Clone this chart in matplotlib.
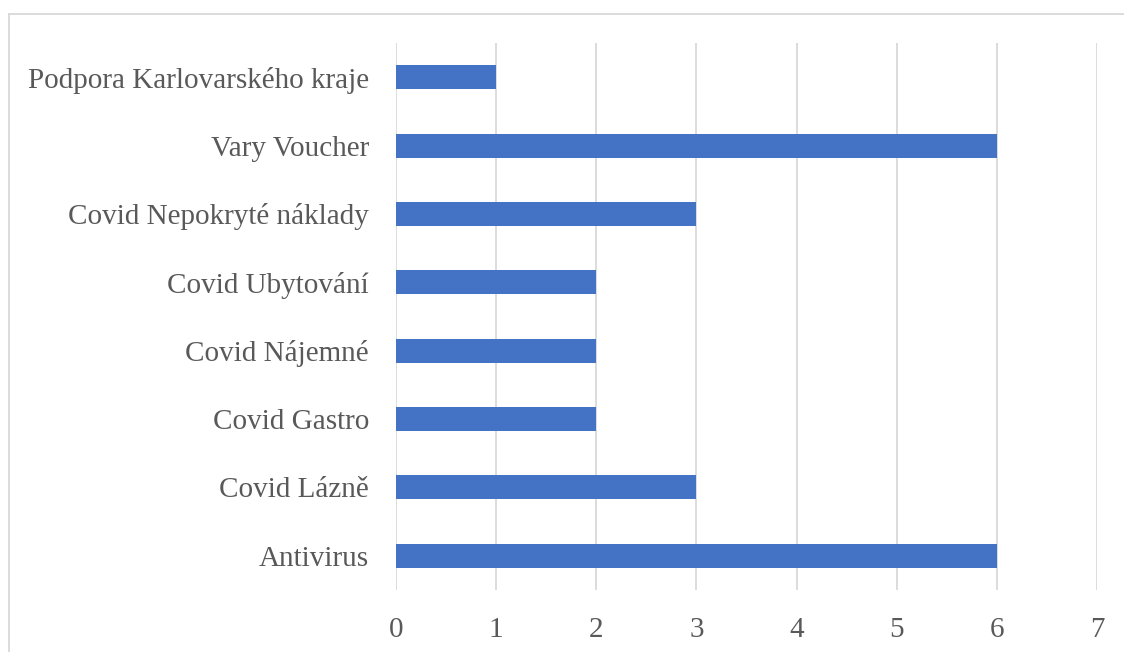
import matplotlib.pyplot as plt
from matplotlib.lines import Line2D

categories = ["Antivirus", "Covid Lázně", "Covid Gastro", "Covid Nájemné",
              "Covid Ubytování", "Covid Nepokryté náklady", "Vary Voucher",
              "Podpora Karlovarského kraje"]
values = [6, 3, 2, 2, 2, 3, 6, 1]
xticks = [0, 1, 2, 3, 4, 5, 6, 7]

plt.rcParams['font.family'] = ['Liberation Serif', 'DejaVu Serif']

fig = plt.figure(figsize=(11.24, 6.52), dpi=100)
ax = fig.add_axes([396 / 1124, 1 - 590 / 652, (1097 - 396) / 1124, (590 - 43) / 652])

ax.barh(range(len(categories)), values, height=0.35, color="#4472C4", zorder=3)

ax.set_xlim(0, 7)
ax.set_ylim(-0.5, len(categories) - 0.5)
ax.set_xticks(xticks)
ax.set_yticks(range(len(categories)))
ax.set_yticklabels(categories)
ax.grid(axis="x", color="#d9d9d9", linewidth=1.3, zorder=0)
for s in ax.spines.values():
    s.set_visible(False)
ax.tick_params(axis="both", length=0, labelsize=21, colors="#595959")
ax.tick_params(axis="x", pad=19.5)
ax.tick_params(axis="y", pad=19.5)

# outer chart frame
fig.add_artist(Line2D([9 / 1124, 1], [1 - 14 / 652] * 2, color="#d9d9d9", lw=1.3))
fig.add_artist(Line2D([9 / 1124] * 2, [0, 1 - 14 / 652], color="#d9d9d9", lw=1.3))

fig.savefig("out.png", dpi=100)
